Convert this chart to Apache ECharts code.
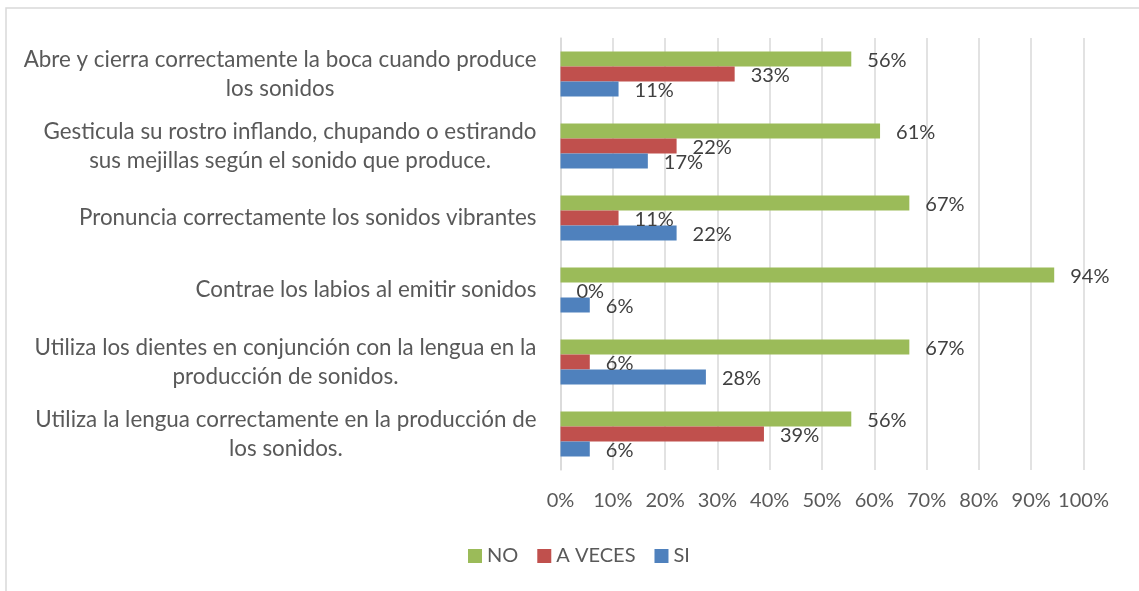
<!DOCTYPE html>
<html>
<head>
<meta charset="utf-8">
<script src="https://cdn.jsdelivr.net/npm/echarts@6/dist/echarts.min.js"></script>
<style>
  html, body { margin: 0; padding: 0; background: #fff; }
  #chart { width: 1139px; height: 591px; }
</style>
</head>
<body>
<div id="chart"></div>
<script>
// categories listed bottom -> top (echarts category y axis starts at the bottom)
var categories = [
    'Utiliza la lengua correctamente en la producción de\nlos sonidos.',
    'Utiliza los dientes en conjunción con la lengua en la\nproducción de sonidos.',
    'Contrae los labios al emitir sonidos',
    'Pronuncia correctamente los sonidos vibrantes',
    'Gesticula su rostro inflando, chupando o estirando\nsus mejillas según el sonido que produce.',
    'Abre y cierra correctamente la boca cuando produce\nlos sonidos'
];
var noValues = [55.6, 66.7, 94.4, 66.7, 61.1, 55.6];
var aVecesValues = [38.9, 5.6, 0, 11.1, 22.2, 33.3];
var siValues = [5.6, 27.8, 5.6, 22.2, 16.7, 11.1];
var xTicks = [0, 10, 20, 30, 40, 50, 60, 70, 80, 90, 100];

var FONT = 'Lato';
var chart = echarts.init(document.getElementById('chart'));

var barLabel = {
    show: true,
    position: 'right',
    distance: 16,
    offset: [0, 2],
    color: '#404040',
    fontFamily: FONT,
    fontSize: 20,
    formatter: function (p) { return Math.round(p.value) + '%'; }
};

var option = {
    animation: false,
    color: ['#9BBB59', '#C0504D', '#4F81BD'],
    graphic: [{
        type: 'rect',
        shape: { x: 6, y: 8, width: 1200, height: 700 },
        style: { fill: 'none', stroke: '#d9d9d9', lineWidth: 1.5 },
        silent: true
    }],
    legend: {
        data: ['NO', 'A VECES', 'SI'],
        left: 463,
        top: 541,
        icon: 'rect',
        itemWidth: 14,
        itemHeight: 14,
        itemGap: 19,
        textStyle: { color: '#595959', fontFamily: FONT, fontSize: 20 }
    },
    grid: {
        left: 560.5,
        right: 55.5,
        top: 38,
        bottom: 121
    },
    xAxis: {
        type: 'value',
        min: xTicks[0],
        max: xTicks[xTicks.length - 1],
        interval: 10,
        axisLine: { show: false },
        axisTick: { show: false },
        axisLabel: {
            color: '#595959',
            fontFamily: FONT,
            fontSize: 20,
            margin: 21,
            formatter: '{value}%'
        },
        splitLine: { lineStyle: { color: '#d9d9d9', width: 1.5 } }
    },
    yAxis: {
        type: 'category',
        data: categories,
        axisLine: { lineStyle: { color: '#d9d9d9', width: 1.5 } },
        axisTick: { show: false },
        axisLabel: {
            margin: 24,
            color: '#595959',
            fontFamily: FONT,
            fontSize: 22.4,
            formatter: function (v) {
                return v.split('\n').map(function (s) { return '{c|' + s + '}'; }).join('\n');
            },
            rich: {
                c: { align: 'center', lineHeight: 29, fontSize: 22.4, fontFamily: FONT, color: '#595959' }
            }
        }
    },
    series: [
        {
            name: 'NO',
            type: 'bar',
            data: noValues,
            barGap: '0%',
            barCategoryGap: '37.5%',
            label: barLabel
        },
        {
            name: 'A VECES',
            type: 'bar',
            data: aVecesValues,
            barGap: '0%',
            barCategoryGap: '37.5%',
            label: barLabel
        },
        {
            name: 'SI',
            type: 'bar',
            data: siValues,
            barGap: '0%',
            barCategoryGap: '37.5%',
            label: barLabel
        }
    ]
};
chart.setOption(option);
</script>
</body>
</html>
